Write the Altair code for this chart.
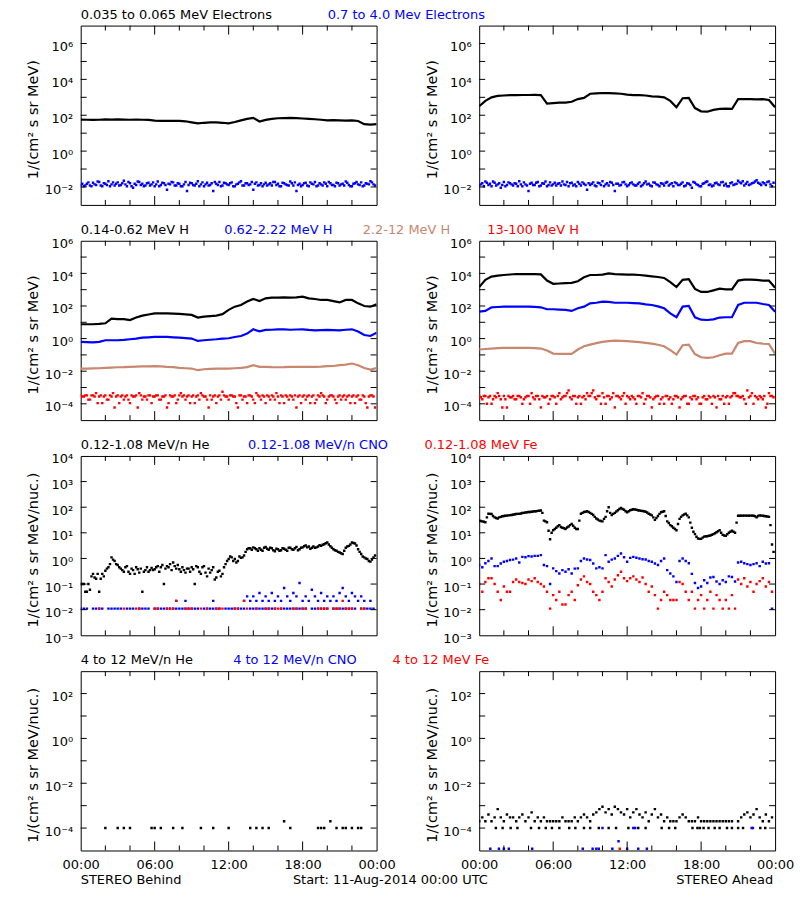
import math
import altair as alt
import pandas as pd

FONT = "DejaVu Sans"
FS = 13
W, H = 297, 180
BLACK, BLUE, SIENNA, RED = "#000000", "#0000ff", "#c8876e", "#ff0000"
N = None

# ---------------- time grids (hours after 11-Aug-2014 00:00 UTC) ----------------
T49 = [0, 0.5, 1, 1.5, 2, 2.5, 3, 3.5, 4, 4.5, 5, 5.5,
       6, 6.5, 7, 7.5, 8, 8.5, 9, 9.5, 10, 10.5, 11, 11.5,
       12, 12.5, 13, 13.5, 14, 14.5, 15, 15.5, 16, 16.5, 17, 17.5,
       18, 18.5, 19, 19.5, 20, 20.5, 21, 21.5, 22, 22.5, 23, 23.5, 24]
T96 = [0, 0.25, 0.5, 0.75, 1, 1.25, 1.5, 1.75, 2, 2.25, 2.5, 2.75,
       3, 3.25, 3.5, 3.75, 4, 4.25, 4.5, 4.75, 5, 5.25, 5.5, 5.75,
       6, 6.25, 6.5, 6.75, 7, 7.25, 7.5, 7.75, 8, 8.25, 8.5, 8.75,
       9, 9.25, 9.5, 9.75, 10, 10.25, 10.5, 10.75, 11, 11.25, 11.5, 11.75,
       12, 12.25, 12.5, 12.75, 13, 13.25, 13.5, 13.75, 14, 14.25, 14.5, 14.75,
       15, 15.25, 15.5, 15.75, 16, 16.25, 16.5, 16.75, 17, 17.25, 17.5, 17.75,
       18, 18.25, 18.5, 18.75, 19, 19.25, 19.5, 19.75, 20, 20.25, 20.5, 20.75,
       21, 21.25, 21.5, 21.75, 22, 22.25, 22.5, 22.75, 23, 23.25, 23.5, 23.75]
T96B = [0.125, 0.375, 0.625, 0.875, 1.125, 1.375, 1.625, 1.875, 2.125, 2.375, 2.625, 2.875,
        3.125, 3.375, 3.625, 3.875, 4.125, 4.375, 4.625, 4.875, 5.125, 5.375, 5.625, 5.875,
        6.125, 6.375, 6.625, 6.875, 7.125, 7.375, 7.625, 7.875, 8.125, 8.375, 8.625, 8.875,
        9.125, 9.375, 9.625, 9.875, 10.125, 10.375, 10.625, 10.875, 11.125, 11.375, 11.625, 11.875,
        12.125, 12.375, 12.625, 12.875, 13.125, 13.375, 13.625, 13.875, 14.125, 14.375, 14.625, 14.875,
        15.125, 15.375, 15.625, 15.875, 16.125, 16.375, 16.625, 16.875, 17.125, 17.375, 17.625, 17.875,
        18.125, 18.375, 18.625, 18.875, 19.125, 19.375, 19.625, 19.875, 20.125, 20.375, 20.625, 20.875,
        21.125, 21.375, 21.625, 21.875, 22.125, 22.375, 22.625, 22.875, 23.125, 23.375, 23.625, 23.875]

# ---------------- row 1: electrons ----------------
e_lo_behind = [57, 56, 55, 56, 59, 57, 59, 57, 56, 57, 56, 55,
               50, 48, 49, 48, 48, 46, 40, 35, 38, 40, 40, 38,
               35, 42, 52, 63, 71, 45, 55, 63, 68, 69, 71, 69,
               66, 63, 60, 56, 52, 54, 52, 50, 52, 48, 32, 30, 32]
e_hi_behind = [0.013, 0.011, 0.015, 0.012, 0.017, 0.013, 0.019, 0.011, 0.015, 0.021, 0.014, 0.012,
               0.018, 0.013, 0.022, 0.011, 0.016, 0.009, 0.013, 0.019, 0.015, 0.012, 0.017, 0.014,
               0.011, 0.02, 0.013, 0.016, 0.007, 0.014, 0.018, 0.012, 0.015, 0.011, 0.019, 0.013,
               0.016, 0.012, 0.021, 0.014, 0.011, 0.017, 0.013, 0.006, 0.015, 0.019, 0.012, 0.016,
               0.013, 0.018, 0.011, 0.015, 0.021, 0.012, 0.016, 0.014, 0.007, 0.018, 0.013, 0.011,
               0.017, 0.014, 0.012, 0.019, 0.015, 0.011, 0.016, 0.013, 0.02, 0.012, 0.006, 0.015,
               0.013, 0.017, 0.011, 0.015, 0.019, 0.012, 0.014, 0.018, 0.011, 0.016, 0.013, 0.017,
               0.012, 0.015, 0.02, 0.013, 0.011, 0.016, 0.014, 0.018, 0.012, 0.015, 0.021, 0.014]
e_hi_behind_b = [0.015, 0.012, 0.018, 0.011, 0.014, 0.02, 0.012, 0.016, 0.013, 0.011, 0.018, 0.015,
                 0.012, 0.016, 0.014, 0.019, 0.011, 0.015, 0.02, 0.013, 0.011, 0.016, 0.012, 0.018,
                 0.014, 0.011, 0.017, 0.013, 0.015, 0.019, 0.012, 0.016, 0.011, 0.014, 0.006, 0.017,
                 0.013, 0.015, 0.011, 0.018, 0.014, 0.012, 0.016, 0.019, 0.013, 0.011, 0.017, 0.014,
                 0.016, 0.011, 0.014, 0.018, 0.012, 0.016, 0.013, 0.019, 0.015, 0.012, 0.016, 0.014,
                 0.012, 0.016, 0.019, 0.013, 0.011, 0.017, 0.014, 0.012, 0.016, 0.018, 0.013, 0.011,
                 0.016, 0.012, 0.018, 0.014, 0.011, 0.016, 0.012, 0.015, 0.019, 0.013, 0.011, 0.016,
                 0.014, 0.012, 0.017, 0.011, 0.015, 0.019, 0.013, 0.011, 0.016, 0.014, 0.018, 0.012]
e_lo_ahead = [316, 631, 1000, 1200, 1260, 1320, 1320, 1350, 1350, 1380, 1320, 447,
              479, 501, 501, 562, 794, 933, 1585, 1660, 1740, 1700, 1660, 1585,
              1410, 1320, 1320, 1260, 1120, 1100, 1000, 631, 282, 891, 933, 251,
              166, 158, 200, 224, 234, 224, 794, 794, 794, 759, 794, 708, 282]
e_hi_ahead = [0.012, 0.016, 0.02, 0.013, 0.011, 0.017, 0.014, 0.009, 0.019, 0.013, 0.016, 0.012,
              0.015, 0.021, 0.011, 0.014, 0.006, 0.017, 0.013, 0.019, 0.012, 0.015, 0.011, 0.018,
              0.014, 0.012, 0.016, 0.02, 0.013, 0.011, 0.017, 0.014, 0.019, 0.012, 0.015, 0.007,
              0.013, 0.018, 0.011, 0.016, 0.021, 0.014, 0.012, 0.017, 0.006, 0.015, 0.013, 0.019,
              0.011, 0.016, 0.014, 0.012, 0.018, 0.013, 0.02, 0.015, 0.011, 0.017, 0.013, 0.016,
              0.012, 0.019, 0.014, 0.011, 0.016, 0.013, 0.018, 0.012, 0.015, 0.009, 0.017, 0.013,
              0.011, 0.016, 0.02, 0.014, 0.012, 0.017, 0.013, 0.019, 0.015, 0.011, 0.018, 0.014,
              0.022, 0.016, 0.012, 0.019, 0.014, 0.017, 0.024, 0.015, 0.018, 0.013, 0.02, 0.011]
e_hi_ahead_b = [0.014, 0.011, 0.017, 0.015, 0.02, 0.012, 0.016, 0.013, 0.011, 0.018, 0.014, 0.016,
                0.011, 0.014, 0.018, 0.012, 0.015, 0.013, 0.017, 0.011, 0.016, 0.02, 0.013, 0.012,
                0.017, 0.015, 0.012, 0.014, 0.019, 0.016, 0.012, 0.011, 0.015, 0.018, 0.013, 0.016,
                0.015, 0.012, 0.017, 0.013, 0.011, 0.016, 0.019, 0.013, 0.015, 0.012, 0.018, 0.014,
                0.013, 0.018, 0.012, 0.015, 0.011, 0.016, 0.014, 0.012, 0.018, 0.014, 0.011, 0.015,
                0.017, 0.012, 0.016, 0.018, 0.013, 0.015, 0.011, 0.016, 0.013, 0.019, 0.014, 0.011,
                0.015, 0.019, 0.013, 0.011, 0.016, 0.014, 0.018, 0.012, 0.011, 0.016, 0.013, 0.015,
                0.018, 0.021, 0.015, 0.013, 0.016, 0.02, 0.017, 0.013, 0.016, 0.019, 0.014, 0.017]

# ---------------- row 2: protons ----------------
h1_behind = [7.6, 7.6, 7.6, 7.9, 8.7, 16.6, 15.8, 15.8, 13.8, 19.5, 25.7, 30.2,
             35.5, 35.5, 35.5, 33.9, 32.4, 30.2, 28.2, 19.5, 22.4, 24, 25.7, 31.6,
             57.5, 91, 115, 186, 269, 200, 295, 324, 324, 339, 324, 339,
             372, 295, 269, 234, 234, 200, 166, 234, 234, 145, 100, 91, 126]
h2_behind = [0.63, 0.6, 0.58, 0.63, 0.79, 0.79, 0.79, 0.83, 0.91, 1.0, 1.15, 1.2,
             1.26, 1.26, 1.26, 1.2, 1.15, 1.07, 1.0, 0.72, 0.79, 0.85, 0.91, 1.0,
             1.05, 1.26, 1.45, 2.04, 3.7, 2.8, 3.4, 3.5, 3.7, 3.7, 3.5, 3.6,
             3.7, 3.4, 3.2, 3.3, 3.4, 3.3, 3.2, 3.5, 3.7, 2.7, 1.66, 1.45, 2.3]
h3_behind = [0.0145, 0.0145, 0.0148, 0.0151, 0.0158, 0.0166, 0.0174, 0.0178, 0.0186, 0.019, 0.0195, 0.02,
             0.0204, 0.02, 0.0186, 0.0178, 0.0158, 0.0151, 0.0145, 0.0115, 0.0132, 0.0138, 0.0145, 0.0145,
             0.0145, 0.0151, 0.0158, 0.0178, 0.0234, 0.0186, 0.0186, 0.0178, 0.0174, 0.0178, 0.0186, 0.0186,
             0.0186, 0.0182, 0.0186, 0.019, 0.0204, 0.0209, 0.0234, 0.0251, 0.0295, 0.0234, 0.0158, 0.0126, 0.0158]
h4_behind = [3.3e-4, 2.8e-4, 3.3e-4, 1.8e-4, 3.3e-4, 4.5e-4, 2.8e-4, 1.1e-4, 3.3e-4, 1.8e-4, 2.8e-4, 6e-5,
             3.3e-4, 2.8e-4, 1.8e-4, 3.3e-4, 1.1e-4, 2.8e-4, 3.3e-4, 4.5e-4, 1.8e-4, 2.8e-4, 3.3e-4, 1.1e-4,
             2.8e-4, 3.3e-4, 1.8e-4, 2.8e-4, 6e-5, 3.3e-4, 2.8e-4, 1.1e-4, 3.3e-4, 2.8e-4, 1.8e-4, 3.3e-4,
             2.8e-4, 1.1e-4, 3.3e-4, 4.5e-4, 2.8e-4, 1.8e-4, 3.3e-4, 2.8e-4, 1.1e-4, 3.3e-4, 5.5e-4, 2.8e-4,
             1.8e-4, 3.3e-4, 2.8e-4, 6e-5, 3.3e-4, 2.8e-4, 1.1e-4, 3.3e-4, 1.8e-4, 4.5e-4, 2.8e-4, 3.3e-4,
             1.1e-4, 2.8e-4, 3.3e-4, 1.8e-4, 2.8e-4, 3.3e-4, 1.1e-4, 2.8e-4, 3.3e-4, 1.8e-4, 6e-5, 3.3e-4,
             2.8e-4, 1.8e-4, 3.3e-4, 2.8e-4, 1.1e-4, 3.3e-4, 4.5e-4, 2.8e-4, 1.8e-4, 3.3e-4, 2.8e-4, 1.1e-4,
             3.3e-4, 2.8e-4, 1.8e-4, 3.3e-4, 2.8e-4, 1.1e-4, 3.3e-4, 1.8e-4, 2.8e-4, 6e-5, 3.3e-4, 2.8e-4]
h4_behind_b = [2.8e-4, 3.3e-4, 1.8e-4, 3.3e-4, 2.8e-4, 1.1e-4, 3.3e-4, 2.8e-4, 1.8e-4, 3.3e-4, 4.5e-4, 2.8e-4,
               1.1e-4, 3.3e-4, 2.8e-4, 1.8e-4, 3.3e-4, 2.8e-4, 6e-5, 3.3e-4, 2.8e-4, 1.8e-4, 3.3e-4, 2.8e-4,
               3.3e-4, 1.8e-4, 2.8e-4, 3.3e-4, 1.1e-4, 2.8e-4, 3.3e-4, 1.8e-4, 4.5e-4, 3.3e-4, 2.8e-4, 1.1e-4,
               3.3e-4, 2.8e-4, 1.8e-4, 3.3e-4, 2.8e-4, 6e-5, 1.8e-4, 3.3e-4, 2.8e-4, 1.8e-4, 3.3e-4, 2.8e-4,
               3.3e-4, 2.8e-4, 1.1e-4, 3.3e-4, 1.8e-4, 2.8e-4, 3.3e-4, 2.8e-4, 1.1e-4, 3.3e-4, 1.8e-4, 2.8e-4,
               3.3e-4, 1.8e-4, 2.8e-4, 4.5e-4, 1.1e-4, 2.8e-4, 3.3e-4, 1.8e-4, 2.8e-4, 3.3e-4, 2.8e-4, 1.1e-4,
               3.3e-4, 2.8e-4, 1.1e-4, 3.3e-4, 1.8e-4, 2.8e-4, 3.3e-4, 1.1e-4, 2.8e-4, 3.3e-4, 1.8e-4, 2.8e-4,
               1.8e-4, 3.3e-4, 2.8e-4, 1.1e-4, 3.3e-4, 2.8e-4, 1.8e-4, 3.3e-4, 1.1e-4, 2.8e-4, 3.3e-4, 6e-5]
h1_ahead = [1445, 3981, 6310, 7244, 7943, 8511, 9120, 9120, 9120, 9120, 8710, 3631,
            2291, 2399, 2512, 2630, 3311, 5754, 7943, 7943, 8318, 10000, 9120, 8710,
            8318, 8318, 7943, 7244, 6607, 6026, 5248, 2884, 1445, 3981, 4365, 1122,
            724, 724, 912, 1148, 1047, 1047, 3631, 4169, 4169, 3981, 3631, 3631, 1318]
h2_ahead = [44.7, 50, 83, 87, 91, 91, 91, 91, 91, 89, 83, 63,
            63, 60, 58, 50, 72, 91, 145, 158, 186, 178, 158, 158,
            158, 151, 145, 126, 115, 95, 72, 35.5, 20.4, 91, 100, 20,
            14.5, 13.8, 15.1, 19.5, 20.4, 20.4, 115, 158, 158, 158, 132, 115, 44.7]
h3_ahead = [0.214, 0.229, 0.245, 0.257, 0.269, 0.269, 0.269, 0.269, 0.269, 0.263, 0.245, 0.186,
            0.12, 0.117, 0.115, 0.115, 0.214, 0.339, 0.427, 0.525, 0.631, 0.692, 0.759, 0.724,
            0.692, 0.646, 0.603, 0.55, 0.49, 0.417, 0.339, 0.195, 0.105, 0.389, 0.427, 0.112,
            0.072, 0.066, 0.072, 0.095, 0.12, 0.12, 0.537, 0.692, 0.692, 0.537, 0.49, 0.468, 0.115]
h4_ahead = [3e-4, 1.9e-4, 3e-4, 2.5e-4, 1e-4, 3e-4, 4.5e-4, 1.9e-4, 3e-4, 6e-5, 2.5e-4, 3e-4,
            1.9e-4, 3e-4, 1e-4, 2.5e-4, 3e-4, 4.5e-4, 1.9e-4, 3e-4, 6e-5, 2.5e-4, 3e-4, 1.9e-4,
            3e-4, 1e-4, 4.5e-4, 2.5e-4, 3e-4, 6.6e-4, 1.9e-4, 3e-4, 2.5e-4, 1e-4, 3e-4, 4.5e-4,
            3e-4, 6.6e-4, 1.9e-4, 3e-4, 4.5e-4, 1e-4, 3e-4, 2.5e-4, 6e-5, 3e-4, 1.9e-4, 4.5e-4,
            3e-4, 1.9e-4, 2.5e-4, 1e-4, 3e-4, 4.5e-4, 1.9e-4, 3e-4, 6e-5, 2.5e-4, 3e-4, 1.9e-4,
            1e-4, 3e-4, 2.5e-4, 1.9e-4, 3e-4, 6e-5, 2.5e-4, 3e-4, 1e-4, 1.9e-4, 3e-4, 2.5e-4,
            1e-4, 3e-4, 1.9e-4, 2.5e-4, 3e-4, 6e-5, 1.9e-4, 3e-4, 2.5e-4, 1e-4, 3e-4, 4.5e-4,
            3e-4, 2.5e-4, 1.9e-4, 6.6e-4, 3e-4, 1e-4, 2.5e-4, 3e-4, 1.9e-4, 6e-5, 4.5e-4, 3e-4]
h4_ahead_b = [2.5e-4, 3e-4, 1e-4, 3e-4, 1.9e-4, 2.5e-4, 3e-4, 6e-5, 1.9e-4, 3e-4, 2.5e-4, 1.9e-4,
              3e-4, 2.5e-4, 1.9e-4, 3e-4, 1e-4, 2.5e-4, 3e-4, 1.9e-4, 3e-4, 2.5e-4, 1e-4, 3e-4,
              2.5e-4, 3e-4, 1.9e-4, 3e-4, 4.5e-4, 2.5e-4, 3e-4, 1e-4, 3e-4, 2.5e-4, 1.9e-4, 3e-4,
              4.5e-4, 2.5e-4, 3e-4, 1e-4, 2.5e-4, 3e-4, 1.9e-4, 4.5e-4, 3e-4, 2.5e-4, 3e-4, 1e-4,
              2.5e-4, 3e-4, 1.9e-4, 3e-4, 2.5e-4, 1e-4, 3e-4, 2.5e-4, 1.9e-4, 3e-4, 1e-4, 2.5e-4,
              3e-4, 1.9e-4, 1e-4, 3e-4, 2.5e-4, 1.9e-4, 3e-4, 1e-4, 2.5e-4, 3e-4, 1.9e-4, 1e-4,
              2.5e-4, 1.9e-4, 3e-4, 1e-4, 2.5e-4, 3e-4, 1.9e-4, 1e-4, 3e-4, 2.5e-4, 4.5e-4, 3e-4,
              2.5e-4, 3e-4, 1e-4, 2.5e-4, 4.5e-4, 3e-4, 1.9e-4, 2.5e-4, 3e-4, 1e-4, 3e-4, 2.5e-4]

# ---------------- row 3: 0.12-1.08 MeV/n ions ----------------
he_behind = [0.1, 0.1, 0.05, 0.06, 0.25, 0.16, 0.05, 0.25, 0.33, 0.45, 1.1, 0.8,
             0.55, 0.4, 0.3, 0.5, 0.25, 0.35, 0.45, 0.28, 0.05, 0.35, 0.3, 0.42,
             0.38, 0.5, 0.45, 0.1, 0.5, 0.6, 0.7, 0.4, 0.38, 0.45, 0.28, 0.4,
             0.45, 0.1, 0.45, 0.25, 0.5, 0.2, 0.28, 0.45, 0.18, 0.33, 0.25, 0.6,
             0.95, 1.1, 0.95, 0.8, 1.05, 1.3, 2.3, 2.5, 2.7, 2.3, 2.5, 2.0,
             2.8, 2.2, 2.5, 1.9, 2.3, 2.1, 2.4, 2.0, 2.6, 2.2, 2.8, 2.3,
             2.7, 3.2, 2.9, 2.6, 2.6, 2.9, 3.1, 3.6, 4.2, 3.0, 2.3, 2.0,
             1.7, 1.5, 2.6, 3.1, 4.2, 3.8, 2.3, 1.5, 1.1, 0.95, 0.75, 1.1]
he_behind_b = [0.1, 0.05, 0.1, 0.2, 0.18, 0.25, 0.16, 0.2, 0.4, 0.6, 0.9, 0.6,
               0.45, 0.35, 0.45, 0.3, 0.4, 0.25, 0.38, 0.4, 0.3, 0.45, 0.35, 0.35,
               0.45, 0.3, 0.55, 0.4, 0.45, 0.35, 0.5, 0.55, 0.3, 0.35, 0.4, 0.3,
               0.38, 0.5, 0.3, 0.45, 0.28, 0.4, 0.35, 0.15, 0.3, 0.2, 0.45, 0.8,
               1.2, 0.8, 0.7, 1.2, 1.1, 1.8, 2.5, 2.2, 2.5, 2.0, 2.2, 2.6,
               2.4, 2.6, 2.1, 2.4, 2.0, 2.5, 2.2, 2.6, 2.3, 2.5, 2.1, 2.6,
               3.0, 2.7, 2.4, 2.9, 2.7, 3.3, 3.4, 3.9, 3.5, 2.6, 2.1, 1.8,
               1.6, 2.0, 2.9, 3.5, 4.0, 3.2, 1.8, 1.2, 1.0, 0.8, 0.9, 1.3]
cno_behind_floor = [.011, .011, .011, N, .011, .011, .011, .011, N, .011, .011, .011,
                    .011, .011, N, .011, .011, .011, N, .011, .011, .011, .011, N,
                    .011, .011, .011, .011, .011, .011, .011, .011, .011, .011, .011, .011,
                    .011, .011, .011, N, .011, .011, .011, .011, .011, .011, N, .011,
                    .011, .011, .011, .011, .011, .011, N, .011, .011, .011, .011, .011,
                    .011, .011, .011, .011, N, .011, .011, .011, .011, .011, .011, .011,
                    .011, .011, N, .011, .011, .011, .011, .011, .011, N, .011, .011,
                    .011, .011, .011, .011, .011, .011, N, .011, .011, .011, .011, .011]
cno_behind_up = [N, N, N, N, N, N, N, N, N, N, N, N,
                 N, N, N, N, N, N, N, N, N, N, N, N,
                 N, N, N, N, N, N, N, .022, N, N, .022, N,
                 N, N, N, N, N, N, N, .022, N, N, N, N,
                 N, N, N, N, N, .022, .033, .022, .033, .022, .045, .022,
                 .033, .022, .045, .022, .033, .022, .07, .033, .022, .045, .033, .11,
                 .022, .033, .022, .06, .033, .022, .045, .022, .033, .022, .033, .022,
                 .045, .07, .033, .022, .045, .033, .022, .033, .022, N, .022, N]
fe_behind = [N, N, N, N, N, N, .011, N, N, N, N, N,
             N, N, .011, N, N, N, .011, .011, N, N, N, N,
             .011, .011, N, N, .011, .011, .011, .022, N, N, .011, .011,
             .011, N, N, .011, N, .011, N, N, .011, .011, .011, N,
             N, N, .011, .011, N, .022, .011, N, N, .011, N, N,
             .011, .011, N, .011, .011, .011, N, N, N, .011, .011, N,
             .011, .011, N, N, N, .011, .011, .011, .011, N, .011, .011,
             .011, .022, .011, .011, .011, N, N, .011, .011, N, N, N]
he_ahead = [30, 28, 26, 56, 54, 40, 36, 42, 45, 47, 49, 51,
            54, 55, 59, 62, 65, 66, 69, 72, 74, 30, 26, 5.6,
            12.6, 15.8, 20, 15.8, 14, 17.8, 22.4, 15.8, 14, 56, 65, 69,
            60, 50, 36, 30, 28, 42, 100, 50, 60, 76, 93, 79,
            63, 76, 83, 79, 74, 71, 66, 56, 48, 32, 45, 63,
            69, 28, 20, 15.8, 12.6, 35, 48, 56, 40, 15.8, 8.9, 6,
            5.8, 7.1, 7.4, 7.9, 8.9, 10.5, 12.6, 8.3, 7.6, 10, 12, 10,
            46, 46, 47, 47, 47, 46, 40, 48, 46, 44, 42, 3.5]
he_ahead_b = [29, 27, 40, 55, 45, 38, 40, 44, 46, 48, 50, 53,
              55, 57, 60, 64, 65, 68, 70, 73, 60, 28, 12, 10,
              14, 18, 17, 15, 16, 20, 19, 14, 30, 60, 67, 65,
              55, 42, 33, 29, 35, 70, 60, 55, 68, 85, 85, 70,
              70, 80, 82, 76, 72, 69, 62, 52, 40, 38, 55, 66,
              45, 24, 18, 14, 22, 42, 52, 48, 25, 11, 7, 5.8,
              6.5, 7.3, 7.7, 8.4, 9.6, 11.5, 10, 7.9, 8.8, 11, 11, 25,
              46, 47, 47, 46, 47, 44, 45, 47, 45, 43, 20, 1.8]
cno_ahead = [0.55, 0.45, 0.65, 0.8, 1.0, 0.5, 0.5, 0.63, 0.74, 0.8, 0.87, 0.9,
             1.0, 0.7, 1.15, 1.12, 1.23, 1.2, 1.26, 1.26, 1.35, 0.55, 0.5, 0.1,
             0.41, 0.32, 0.26, 0.35, 0.3, 0.38, 0.26, 0.4, 0.41, 0.8, 1.0, 0.91,
             0.87, 0.63, 0.41, 0.45, 0.41, 1.35, 0.74, 0.9, 1.0, 1.26, 1.55, 1.12,
             0.74, 1.05, 1.15, 1.07, 1.0, 0.93, 0.91, 0.8, 0.74, 0.63, 0.55, 0.8,
             1.0, 0.35, 0.26, 0.2, 0.12, 0.8, 1.0, 0.8, 0.65, 0.25, 0.11, 0.07,
             0.08, 0.14, 0.11, 0.18, 0.19, 0.125, 0.1, 0.14, 0.12, 0.2, 0.19, 0.125,
             0.7, 0.74, 0.65, 0.6, 0.55, 0.6, 0.65, 0.5, 0.74, 0.63, 0.65, 0.011]
fe_ahead = [0.1, 0.05, 0.12, 0.17, 0.17, 0.1, 0.05, 0.024, 0.08, 0.05, 0.05, 0.12,
            0.15, 0.12, 0.11, 0.1, 0.15, 0.13, 0.17, 0.12, 0.1, 0.08, 0.05, 0.011,
            0.037, 0.024, 0.05, 0.016, 0.016, 0.037, 0.05, 0.024, 0.09, 0.15, 0.2, 0.12,
            0.1, 0.05, 0.037, 0.024, 0.05, 0.17, 0.12, 0.08, 0.15, 0.22, 0.3, 0.17,
            0.13, 0.17, 0.2, 0.15, 0.12, 0.18, 0.1, 0.05, 0.08, 0.037, 0.011, 0.024,
            0.05, 0.037, 0.024, 0.024, 0.024, 0.12, 0.1, 0.05, 0.024, 0.05, 0.011, 0.024,
            0.037, 0.011, 0.024, 0.05, 0.011, 0.037, 0.024, 0.011, 0.024, 0.011, 0.037, 0.011,
            0.15, 0.1, 0.17, 0.08, 0.12, 0.05, 0.1, 0.13, 0.17, 0.08, 0.12, 0.05]

# ---------------- row 4: 4-12 MeV/n ions (sparse) ----------------
he4_behind_t = [2.0, 3.0, 3.5, 4.0, 5.75, 6.0, 6.5, 7.5, 8.25, 9.75, 10.75, 12.0, 13.75, 14.25,
                14.75, 15.25, 16.5, 17.0, 19.25, 19.5, 19.75, 20.25, 20.75, 21.25, 21.5, 22.0, 22.5, 22.75]
he4_behind = [1e-4, 1e-4, 1e-4, 1e-4, 1e-4, 1e-4, 1e-4, 1e-4, 1e-4, 1e-4, 1e-4, 1e-4, 1e-4, 1e-4,
              1e-4, 1e-4, 2e-4, 1e-4, 1e-4, 1e-4, 1e-4, 2e-4, 1e-4, 1e-4, 1e-4, 1e-4, 1e-4, 1e-4]
he4_ahead_up = [2e-4, 3e-4, 2e-4, 4e-4, 2e-4, 3e-4, 7e-4, 3e-4, 2e-4, 4e-4, 3e-4, 3e-4,
                2e-4, 3e-4, 4e-4, 2e-4, 3e-4, 5e-4, 2e-4, 3e-4, 2e-4, 3e-4, 2e-4, 2e-4,
                2e-4, 2e-4, 2e-4, 3e-4, 2e-4, 2e-4, 2e-4, 3e-4, 2e-4, 3e-4, 4e-4, 3e-4,
                2e-4, 4e-4, 5e-4, 7e-4, 9e-4, 5e-4, 7e-4, 4e-4, 9e-4, 7e-4, 5e-4, 4e-4,
                7e-4, 3e-4, 5e-4, 7e-4, 4e-4, 3e-4, 5e-4, 2e-4, 4e-4, 7e-4, 3e-4, 4e-4,
                2e-4, 3e-4, 2e-4, 2e-4, 2e-4, 3e-4, 4e-4, 3e-4, 2e-4, 2e-4, 2e-4, 3e-4,
                2e-4, 2e-4, 2e-4, 2e-4, 2e-4, 2e-4, 2e-4, 2e-4, 2e-4, 2e-4, 2e-4, N,
                2e-4, 3e-4, 4e-4, 5e-4, 3e-4, 4e-4, 7e-4, 3e-4, 2e-4, 4e-4, 2e-4, 3e-4]
he4_ahead_low_t = [1.35, 1.9, 2.55, 3.1, 4.2, 4.85, 5.4, 5.9, 6.5, 7.3, 7.8, 8.5, 9.0, 9.7, 10.5,
                   11.1, 12.1, 12.9, 13.5, 14.8, 15.4, 15.9, 17.3, 17.7, 17.9, 18.2, 18.6, 19.1,
                   19.5, 20.1, 20.5, 21.0, 21.4, 22.8, 23.2]
he4_ahead_low = [1e-4] * len(he4_ahead_low_t)
cno4_ahead_t = [0.9, 1.6, 2.0, 2.4, 4.3, 8.4, 9.2, 9.5, 9.7, 10.0, 10.8, 11.3, 12.0, 12.5,
                12.65, 12.9, 13.6, 22.1, 22.2]
cno4_ahead = [1.2e-5, 1.2e-5, 1.2e-5, 1.2e-5, 1.2e-5, 1.2e-5, 1.2e-5, 1.2e-5, 1.2e-5, 1e-4,
              1.2e-5, 2.6e-5, 1.2e-5, 1e-4, 1e-4, 1.2e-5, 1.2e-5, 1e-4, 1e-4]
fe4_ahead_t = [11.4]
fe4_ahead = [1.2e-5]

for name, arr, n in [("e_lo_behind", e_lo_behind, 49), ("e_lo_ahead", e_lo_ahead, 49),
                     ("h1_behind", h1_behind, 49), ("h2_behind", h2_behind, 49), ("h3_behind", h3_behind, 49),
                     ("h1_ahead", h1_ahead, 49), ("h2_ahead", h2_ahead, 49), ("h3_ahead", h3_ahead, 49),
                     ("e_hi_behind", e_hi_behind, 96), ("e_hi_ahead", e_hi_ahead, 96),
                     ("e_hi_behind_b", e_hi_behind_b, 96), ("e_hi_ahead_b", e_hi_ahead_b, 96),
                     ("h4_behind", h4_behind, 96), ("h4_ahead", h4_ahead, 96),
                     ("h4_behind_b", h4_behind_b, 96), ("h4_ahead_b", h4_ahead_b, 96),
                     ("he_behind", he_behind, 96), ("he_behind_b", he_behind_b, 96),
                     ("cno_behind_floor", cno_behind_floor, 96),
                     ("cno_behind_up", cno_behind_up, 96), ("fe_behind", fe_behind, 96),
                     ("he_ahead", he_ahead, 96), ("he_ahead_b", he_ahead_b, 96),
                     ("cno_ahead", cno_ahead, 96), ("fe_ahead", fe_ahead, 96),
                     ("he4_ahead_up", he4_ahead_up, 96)]:
    assert len(arr) == n, (name, len(arr))

# ---------------- axes: tick values and labels ----------------
Y1_DOM, Y1_LAB = [1e-3, 1e7], [1e-2, 1, 1e2, 1e4, 1e6]
Y1_TICK = [1e-2, 1e-1, 1, 1e1, 1e2, 1e3, 1e4, 1e5, 1e6]
Y2_DOM, Y2_LAB = [1e-5, 1e6], [1e-4, 1e-2, 1, 1e2, 1e4, 1e6]
Y2_TICK = [1e-4, 1e-3, 1e-2, 1e-1, 1, 1e1, 1e2, 1e3, 1e4, 1e5]
Y3_DOM, Y3_LAB = [1e-3, 1e4], [1e-3, 1e-2, 1e-1, 1, 1e1, 1e2, 1e3, 1e4]
Y3_TICK = [1e-2, 1e-1, 1, 1e1, 1e2, 1e3]
Y4_DOM, Y4_LAB = [1e-5, 1e3], [1e-4, 1e-2, 1, 1e2]
Y4_TICK = [1e-4, 1e-3, 1e-2, 1e-1, 1, 1e1, 1e2]
X_LAB = [0, 6, 12, 18, 24]
X_MAJOR = [6, 12, 18]
X_MINOR = [2, 4, 8, 10, 14, 16, 20, 22]
X_TEXT = "['00:00','06:00','12:00','18:00','00:00'][round(datum.value/6)]"

SUP = str.maketrans("-0123456789", "⁻⁰¹²³⁴⁵⁶⁷⁸⁹")
TY = -7  # baseline of the coloured panel titles, above the plot frame


def ylab_expr(vals):
    parts = []
    for v in vals:
        e = round(math.log10(v))
        parts.append(f"abs(log(datum.value)/LN10-({e}))<0.1?'10{str(e).translate(SUP)}'")
    return ":".join(parts) + ":''"


def one():
    return pd.DataFrame({"k": [0]})


def txt(s, x, y, color, align="left"):
    return alt.Chart(one()).mark_text(
        text=s, color=color, align=align, baseline="alphabetic", font=FONT, fontSize=FS
    ).encode(x=alt.value(x), y=alt.value(y))


def panel(series, ydom, ylabs, yticks, ytitle, bottom, texts, anchor=False):
    xs = alt.Scale(domain=[0, 24], nice=False, zero=False)
    ys = alt.Scale(type="log", domain=ydom, nice=False)
    if bottom:
        xaxis = alt.Axis(values=X_LAB, labelExpr=X_TEXT, ticks=False, tickSize=0, domain=False,
                         grid=False, labelFlush=False, labelPadding=8, labelFont=FONT,
                         labelFontSize=FS, labelColor="black", labelBaseline="top", title=None)
    else:
        xaxis = None
    yaxis = alt.Axis(values=ylabs, labelExpr=ylab_expr(ylabs), ticks=False, tickSize=0,
                     domain=False, grid=False, labelPadding=8, labelOffset=3, labelFont=FONT,
                     labelFontSize=FS, labelColor="black", labelOverlap=False, title=ytitle,
                     titleFont=FONT, titleFontSize=14.5, titleFontWeight="normal",
                     titleColor="black", titleX=-43, titleY=H / 2 + 4, titleAngle=270,
                     titleAlign="center", titleBaseline="alphabetic")
    X = alt.X("t:Q", scale=xs, axis=xaxis)
    Y = alt.Y("v:Q", scale=ys, axis=yaxis)
    layers = []
    for kind, t, v, color in series:
        df = pd.DataFrame({"t": t, "v": v}).dropna()
        if kind == "line":
            m = alt.Chart(df).mark_line(color=color, strokeWidth=2.2, clip=True)
        else:
            m = alt.Chart(df).mark_square(color=color, size=6, opacity=1, clip=True)
        layers.append(m.encode(x=X, y=Y))
    ydf = pd.DataFrame({"v": yticks})
    layers.append(alt.Chart(ydf).mark_rule(color="black", strokeWidth=1).encode(
        y=Y, x=alt.value(0), x2=alt.value(6)))
    layers.append(alt.Chart(ydf).mark_rule(color="black", strokeWidth=1).encode(
        y=Y, x=alt.value(W - 6), x2=alt.value(W)))
    for vals, ln in [(X_MAJOR, 9), (X_MINOR, 5)]:
        xdf = pd.DataFrame({"t": vals})
        layers.append(alt.Chart(xdf).mark_rule(color="black", strokeWidth=1).encode(
            x=X, y=alt.value(H), y2=alt.value(H - ln)))
        layers.append(alt.Chart(xdf).mark_rule(color="black", strokeWidth=1).encode(
            x=X, y=alt.value(0), y2=alt.value(ln)))
    for s, x, y, c, a in texts:
        layers.append(txt(s, x, y, c, a))
    if anchor:
        layers.append(alt.Chart(one()).mark_rule(color="white", strokeWidth=1).encode(
            x=alt.value(-79.5), x2=alt.value(-79.5), y=alt.value(-22.5), y2=alt.value(-21.5)))
    return alt.layer(*layers).properties(width=W, height=H)


T_E = "1/(cm² s sr MeV)"
T_N = "1/(cm² s sr MeV/nuc.)"

p1l = panel([("line", T49, e_lo_behind, BLACK), ("pt", T96, e_hi_behind, BLUE),
             ("pt", T96B, e_hi_behind_b, BLUE)],
            Y1_DOM, Y1_LAB, Y1_TICK, T_E, False,
            [("0.035 to 0.065 MeV Electrons", 0, TY, BLACK, "left"),
             ("0.7 to 4.0 Mev Electrons", 248, TY, BLUE, "left")], anchor=True)
p1r = panel([("line", T49, e_lo_ahead, BLACK), ("pt", T96, e_hi_ahead, BLUE),
             ("pt", T96B, e_hi_ahead_b, BLUE)],
            Y1_DOM, Y1_LAB, Y1_TICK, T_E, False, [])
p2l = panel([("line", T49, h1_behind, BLACK), ("line", T49, h2_behind, BLUE),
             ("line", T49, h3_behind, SIENNA), ("pt", T96, h4_behind, RED),
             ("pt", T96B, h4_behind_b, RED)],
            Y2_DOM, Y2_LAB, Y2_TICK, T_E, False,
            [("0.14-0.62 MeV H", 0, TY, BLACK, "left"), ("0.62-2.22 MeV H", 144, TY, BLUE, "left"),
             ("2.2-12 MeV H", 283, TY, SIENNA, "left"), ("13-100 MeV H", 408, TY, RED, "left")])
p2r = panel([("line", T49, h1_ahead, BLACK), ("line", T49, h2_ahead, BLUE),
             ("line", T49, h3_ahead, SIENNA), ("pt", T96, h4_ahead, RED),
             ("pt", T96B, h4_ahead_b, RED)],
            Y2_DOM, Y2_LAB, Y2_TICK, T_E, False, [])
p3l = panel([("pt", T96, he_behind, BLACK), ("pt", T96B, he_behind_b, BLACK),
             ("pt", T96, cno_behind_floor, BLUE), ("pt", T96, cno_behind_up, BLUE),
             ("pt", T96, fe_behind, RED)],
            Y3_DOM, Y3_LAB, Y3_TICK, T_N, False,
            [("0.12-1.08 MeV/n He", 0, TY, BLACK, "left"),
             ("0.12-1.08 MeV/n CNO", 168, TY, BLUE, "left"),
             ("0.12-1.08 MeV Fe", 345, TY, RED, "left")])
p3r = panel([("pt", T96, he_ahead, BLACK), ("pt", T96B, he_ahead_b, BLACK),
             ("pt", T96, cno_ahead, BLUE), ("pt", T96, fe_ahead, RED)],
            Y3_DOM, Y3_LAB, Y3_TICK, T_N, False, [])
p4l = panel([("pt", he4_behind_t, he4_behind, BLACK)],
            Y4_DOM, Y4_LAB, Y4_TICK, T_N, True,
            [("4 to 12 MeV/n He", 0, TY, BLACK, "left"),
             ("4 to 12 MeV/n CNO", 153, TY, BLUE, "left"),
             ("4 to 12 MeV Fe", 313, TY, RED, "left"),
             ("STEREO Behind", 0, H + 34, BLACK, "left"),
             ("Start: 11-Aug-2014 00:00 UTC", 213, H + 34, BLACK, "left")])
p4r = panel([("pt", T96, he4_ahead_up, BLACK), ("pt", he4_ahead_low_t, he4_ahead_low, BLACK),
             ("pt", cno4_ahead_t, cno4_ahead, BLUE), ("pt", fe4_ahead_t, fe4_ahead, RED)],
            Y4_DOM, Y4_LAB, Y4_TICK, T_N, True,
            [("STEREO Ahead", W - 2, H + 34, BLACK, "right")])

chart = alt.concat(p1l, p1r, p2l, p2r, p3l, p3r, p4l, p4r, columns=2,
                   spacing={"row": 36, "column": 103}, bounds="flush").properties(
    padding={"left": 0, "top": 0, "right": 5, "bottom": 5}, background="white"
).configure_view(stroke="black", strokeWidth=1)

chart.save("out.html", embed_options={"renderer": "svg", "actions": False})
